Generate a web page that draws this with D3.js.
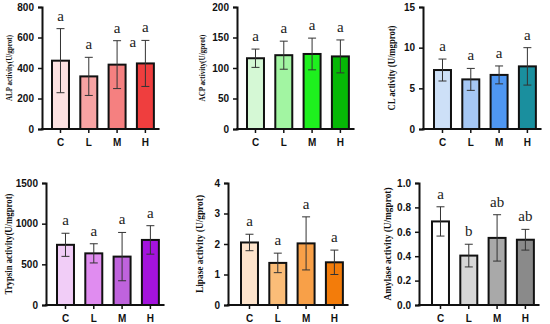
<!DOCTYPE html>
<html><head><meta charset="utf-8">
<script src="https://cdn.jsdelivr.net/npm/d3@7"></script>
<style>html,body{margin:0;padding:0;background:#fff;}svg{display:block;}</style>
</head><body>
<svg id="chart" width="550" height="324"></svg>
<script>
const categories = ["C", "L", "M", "H"];

const alpMean = [448, 345, 422, 430];
const alpSd = [210, 125, 157, 151];
const alpLetters = ["a", "a", "a", "a"];
const alpTicks = [0, 200, 400, 600, 800];

const acpMean = [116, 121, 123, 119];
const acpSd = [15, 23, 26, 27];
const acpLetters = ["a", "a", "a", "a"];
const acpTicks = [0, 50, 100, 150, 200];

const clMean = [7.25, 6.1, 6.65, 7.7];
const clSd = [1.35, 1.35, 1.1, 2.3];
const clLetters = ["a", "a", "a", "a"];
const clTicks = [0, 5, 10, 15];

const trypsinMean = [740, 635, 595, 800];
const trypsinSd = [142, 118, 297, 175];
const trypsinLetters = ["a", "a", "a", "a"];
const trypsinTicks = [0, 500, 1000, 1500];

const lipaseMean = [2.05, 1.38, 2.02, 1.40];
const lipaseSd = [0.27, 0.32, 0.87, 0.40];
const lipaseLetters = ["a", "a", "a", "a"];
const lipaseTicks = [0, 1, 2, 3, 4];

const amylaseMean = [0.685, 0.405, 0.55, 0.535];
const amylaseSd = [0.12, 0.093, 0.19, 0.085];
const amylaseLetters = ["a", "b", "ab", "ab"];
const amylaseTicks = [0, 0.2, 0.4, 0.6, 0.8, 1.0];

// stray label present in the ALP panel of the original
const alpExtraLabel = {text: "a", category: "H", value: 538};

const panels = [
  {title: "ALP activity(U/gprot)", mean: alpMean, sd: alpSd, letters: alpLetters, ticks: alpTicks, fmt: d3.format("d"),
   colors: ["#fde2e2", "#f7a3a3", "#f58080", "#ef3e3e"],
   axisX: 42, firstBar: 52, top: 7, bottom: 129, titleX: 9, titleLen: 66, titleSize: 8.5, extra: alpExtraLabel},
  {title: "ACP activity(U/gprot)", mean: acpMean, sd: acpSd, letters: acpLetters, ticks: acpTicks, fmt: d3.format("d"),
   colors: ["#d5f8d5", "#a2f5a2", "#1ef01e", "#06b806"],
   axisX: 237, firstBar: 247, top: 7, bottom: 129, titleX: 202, titleLen: 67, titleSize: 8.5},
  {title: "CL activity (U/mgprot)", mean: clMean, sd: clSd, letters: clLetters, ticks: clTicks, fmt: d3.format("d"),
   colors: ["#cde0f7", "#a6c8f5", "#4f97f2", "#1a8f9e"],
   axisX: 423, firstBar: 434, top: 7, bottom: 129, titleX: 391, titleLen: 85, titleSize: 10},
  {title: "Trypsin activity(U/mgprot)", mean: trypsinMean, sd: trypsinSd, letters: trypsinLetters, ticks: trypsinTicks, fmt: d3.format("d"),
   colors: ["#f1cdf7", "#e08cf0", "#bf63dd", "#a413dd"],
   axisX: 46, firstBar: 57, top: 183, bottom: 305, titleX: 8.5, titleLen: 101, titleSize: 10},
  {title: "Lipase activity (U/gprot)", mean: lipaseMean, sd: lipaseSd, letters: lipaseLetters, ticks: lipaseTicks, fmt: d3.format("d"),
   colors: ["#fee4cc", "#fbbd78", "#f8a048", "#f37c0a"],
   axisX: 228, firstBar: 241, top: 183, bottom: 305, titleX: 199.5, titleLen: 98, titleSize: 10},
  {title: "Amylase activity (U/mgprot)", mean: amylaseMean, sd: amylaseSd, letters: amylaseLetters, ticks: amylaseTicks, fmt: d3.format(".1f"),
   colors: ["#ffffff", "#d6d6d6", "#a9a9a9", "#8a8a8a"],
   axisX: 419, firstBar: 432, top: 183, bottom: 305, titleX: 387, titleLen: 113, titleSize: 10.5}
];

const svg = d3.select("#chart");
const STEP = 28.3;

panels.forEach(p => {
  const ymax = p.ticks[p.ticks.length - 1];
  const y = d3.scaleLinear().domain([0, ymax]).range([p.bottom, p.top]);
  const r0 = p.firstBar - 0.2 * STEP;
  const x = d3.scaleBand().domain(categories).range([r0, r0 + 4 * STEP]).paddingInner(0.4).paddingOuter(0.2);
  const g = svg.append("g");
  const data = categories.map((c, i) => ({c, m: p.mean[i], s: p.sd[i], l: p.letters[i], col: p.colors[i]}));

  // bars
  g.selectAll("rect.bar").data(data).join("rect")
    .attr("x", d => x(d.c)).attr("width", x.bandwidth())
    .attr("y", d => y(d.m)).attr("height", d => y(0) - y(d.m))
    .attr("fill", d => d.col).attr("stroke", "#111").attr("stroke-width", 2);

  // error bars
  const cap = 4;
  data.forEach(d => {
    const cx = x(d.c) + x.bandwidth() / 2;
    const eg = g.append("g").attr("stroke", "#333").attr("stroke-width", 1);
    eg.append("line").attr("x1", cx).attr("x2", cx).attr("y1", y(d.m - d.s)).attr("y2", y(d.m + d.s));
    eg.append("line").attr("x1", cx - cap).attr("x2", cx + cap).attr("y1", y(d.m + d.s)).attr("y2", y(d.m + d.s));
    eg.append("line").attr("x1", cx - cap).attr("x2", cx + cap).attr("y1", y(d.m - d.s)).attr("y2", y(d.m - d.s));
  });

  // letters
  g.selectAll("text.sig").data(data).join("text")
    .attr("x", d => x(d.c) + x.bandwidth() / 2)
    .attr("y", d => y(d.m + d.s) - 8)
    .attr("text-anchor", "middle")
    .attr("font-family", "Liberation Serif, Times New Roman, serif")
    .attr("font-size", 15).attr("fill", "#222")
    .text(d => d.l);
  if (p.extra) {
    g.append("text")
      .attr("x", x(p.extra.category) - 4)
      .attr("y", y(p.extra.value))
      .attr("text-anchor", "middle")
      .attr("font-family", "Liberation Serif, Times New Roman, serif")
      .attr("font-size", 15).attr("fill", "#222")
      .text(p.extra.text);
  }

  // y axis
  const ya = g.append("g").attr("transform", `translate(${p.axisX},0)`)
    .call(d3.axisLeft(y).tickValues(p.ticks).tickFormat(p.fmt).tickSizeOuter(0).tickSize(4));
  ya.select(".domain").attr("stroke", "#111").attr("stroke-width", 2);
  ya.selectAll(".tick line").attr("stroke", "#111").attr("stroke-width", 1.5);
  ya.selectAll("text").attr("font-family", "Liberation Sans, Arial, sans-serif")
    .attr("font-weight", "bold").attr("font-size", 10).attr("fill", "#111").attr("dx", "-0.1em");

  // x axis
  const xEnd = r0 + 4 * STEP;
  const xa = g.append("g").attr("transform", `translate(0,${p.bottom})`);
  xa.append("line").attr("x1", p.axisX - 1).attr("x2", xEnd).attr("stroke", "#111").attr("stroke-width", 2);
  const xaxis = xa.append("g").call(d3.axisBottom(x).tickSize(4).tickSizeOuter(0));
  xaxis.select(".domain").remove();
  xaxis.selectAll(".tick line").attr("stroke", "#111").attr("stroke-width", 1.5);
  xaxis.selectAll("text").attr("font-family", "Liberation Sans, Arial, sans-serif")
    .attr("font-weight", "bold").attr("font-size", 10).attr("fill", "#111").attr("dy", "1.0em");

  // y title
  const cy = (p.top + p.bottom) / 2;
  g.append("text")
    .attr("transform", `translate(${p.titleX},${cy}) rotate(-90)`)
    .attr("text-anchor", "middle").attr("dominant-baseline", "central")
    .attr("font-family", "Liberation Serif, Times New Roman, serif")
    .attr("font-weight", "bold").attr("font-size", p.titleSize).attr("fill", "#111")
    .attr("textLength", p.titleLen).attr("lengthAdjust", "spacingAndGlyphs")
    .text(p.title);
});
</script>
</body></html>
